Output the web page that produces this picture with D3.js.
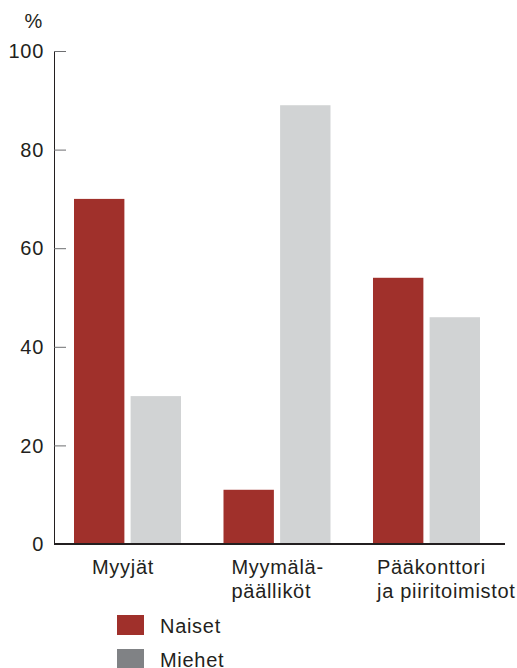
<!DOCTYPE html>
<html>
<head>
    <meta charset="utf-8">
    <title>Naiset ja miehet</title>
    <script type="text/javascript" src="https://d3js.org/d3.v7.min.js"></script>
    <style>
        body { margin: 0; background: #fff; }
        text { font-family: "Liberation Sans", Arial, sans-serif; fill: #231f20; letter-spacing: 0.7px; }
    </style>
</head>
<body>
    <svg width="517" height="668"></svg>

    <script>
        // data
        var categories = [["Myyjät"], ["Myymälä-", "päälliköt"], ["Pääkonttori", "ja piiritoimistot"]];
        var naiset = [70, 11, 54];
        var miehet = [30, 89, 46];
        var yTicks = [0, 20, 40, 60, 80, 100];
        var seriesNames = ["Naiset", "Miehet"];

        var red = "#a0302b", light = "#d1d3d4", legendGray = "#808285";

        var svg = d3.select("svg");
        var marge = { top: 51, left: 54, right: 505, bottom: 544 };

        var x = d3.scaleBand()
            .domain(d3.range(categories.length))
            .range([66, 511.5])
            .paddingInner(0.02)
            .paddingOuter(0);
        var sub = d3.scaleBand()
            .domain([0, 1])
            .range([8, 115])
            .paddingInner(0.11);
        var y = d3.scaleLinear().domain([0, 100]).range([marge.bottom, marge.top]);

        // bars
        var groups = svg.append("g")
            .selectAll("g")
            .data(categories)
            .enter()
            .append("g")
            .attr("transform", function (d, i) { return "translate(" + x(i) + ",0)"; });

        groups.append("rect")
            .attr("x", sub(0))
            .attr("width", sub.bandwidth())
            .attr("y", function (d, i) { return y(naiset[i]); })
            .attr("height", function (d, i) { return y(0) - y(naiset[i]); })
            .attr("fill", red);

        groups.append("rect")
            .attr("x", sub(1))
            .attr("width", sub.bandwidth())
            .attr("y", function (d, i) { return y(miehet[i]); })
            .attr("height", function (d, i) { return y(0) - y(miehet[i]); })
            .attr("fill", light);

        // y axis
        var yAxis = d3.axisRight(y).tickValues(yTicks).tickSize(12).tickFormat("");
        var ga = svg.append("g")
            .attr("transform", "translate(" + marge.left + ",0)")
            .call(yAxis);
        ga.select(".domain").attr("d", "M0.5," + marge.top + "V" + marge.bottom).attr("stroke", "#231f20");
        ga.selectAll(".tick line").attr("stroke", "#6d6e71");

        svg.append("g")
            .selectAll("text")
            .data(yTicks)
            .enter()
            .append("text")
            .attr("x", 44)
            .attr("y", function (d) { return y(d); })
            .attr("dy", "0.36em")
            .attr("text-anchor", "end")
            .style("font-size", "20px")
            .text(function (d) { return d; });

        svg.append("text")
            .attr("x", 43)
            .attr("y", 28)
            .attr("text-anchor", "end")
            .style("font-size", "20px")
            .text("%");

        // baseline
        svg.append("line")
            .attr("x1", marge.left)
            .attr("x2", marge.right)
            .attr("y1", y(0))
            .attr("y2", y(0))
            .attr("stroke", "#231f20")
            .attr("stroke-width", 2.2);

        // category labels
        var labelOffset = [26, 16, 12];
        var labels = svg.append("g")
            .selectAll("text")
            .data(categories)
            .enter()
            .append("text")
            .attr("x", function (d, i) { return x(i) + labelOffset[i]; })
            .attr("y", 574)
            .style("font-size", "20px");
        labels.selectAll("tspan")
            .data(function (d) { return d; })
            .enter()
            .append("tspan")
            .attr("x", function () { return d3.select(this.parentNode).attr("x"); })
            .attr("dy", function (d, j) { return j === 0 ? 0 : 24; })
            .text(function (d) { return d; });

        // legend
        var legend = svg.append("g")
            .selectAll("g")
            .data(seriesNames)
            .enter()
            .append("g")
            .attr("transform", function (d, i) { return "translate(117," + (615 + i * 34) + ")"; });
        legend.append("rect")
            .attr("width", 27)
            .attr("height", 20)
            .attr("fill", function (d, i) { return i === 0 ? red : legendGray; });
        legend.append("text")
            .attr("x", 43)
            .attr("y", 18)
            .style("font-size", "20px")
            .text(function (d) { return d; });
    </script>
</body>
</html>
